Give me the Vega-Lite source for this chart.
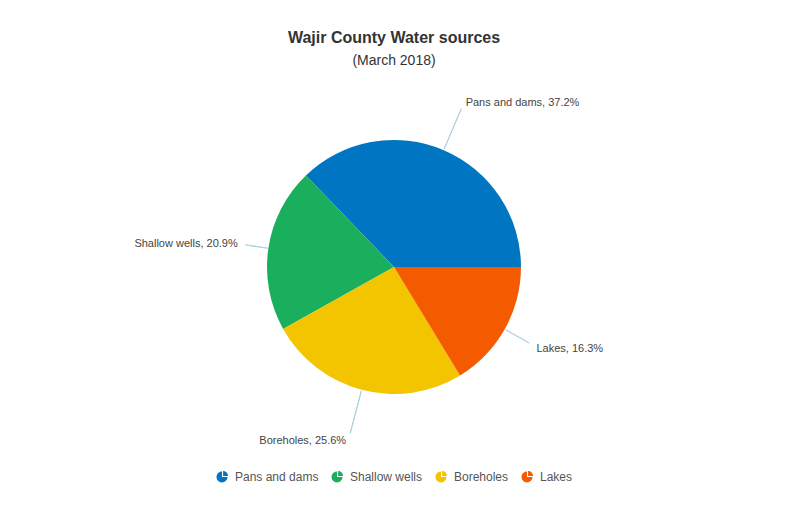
{
  "$schema": "https://vega.github.io/schema/vega-lite/v6.json",
  "width": 788,
  "height": 380,
  "padding": {"top": 30, "left": 0, "right": 0, "bottom": 0},
  "background": "white",
  "config": {"view": {"stroke": null}, "font": "Liberation Sans", "legend": {"layout": {"bottom": {"anchor": "middle"}}}},
  "title": {
    "text": "Wajir County Water sources",
    "subtitle": "(March 2018)",
    "anchor": "middle",
    "fontSize": 16,
    "fontWeight": "bold",
    "color": "#333333",
    "subtitleFontSize": 14,
    "subtitleColor": "#333333",
    "subtitlePadding": 8,
    "offset": 9,
    "font": "Liberation Sans",
    "subtitleFont": "Liberation Sans"
  },
  "data": {
    "values": [
      {"source": "Pans and dams", "value": 37.2, "o": 1},
      {"source": "Shallow wells", "value": 20.9, "o": 2},
      {"source": "Boreholes", "value": 25.6, "o": 3},
      {"source": "Lakes", "value": 16.3, "o": 4}
    ]
  },
  "transform": [
    {"window": [{"op": "sum", "field": "value", "as": "cum"}], "sort": [{"field": "o"}], "frame": [null, 0]},
    {"calculate": "datum.cum - datum.value / 2", "as": "mid"},
    {"calculate": "datum.source + ', ' + format(datum.value, '.1f') + '%'", "as": "label"}
  ],
  "layer": [
    {
      "mark": {"type": "arc", "radius": 127},
      "encoding": {
        "theta": {"field": "value", "type": "quantitative", "stack": true, "scale": {"domain": [0, 100], "range": [1.5708, -4.7124]}},
        "order": {"field": "o", "type": "quantitative"},
        "color": {
          "field": "source",
          "type": "nominal",
          "sort": ["Pans and dams", "Shallow wells", "Boreholes", "Lakes"],
          "scale": {"domain": ["Pans and dams", "Shallow wells", "Boreholes", "Lakes"], "range": ["#0075c2", "#1aaf5d", "#f2c500", "#f45b00"]},
          "legend": {
            "orient": "bottom",
            "direction": "horizontal",
            "title": null,
            "offset": 14,
            "symbolType": "M0,0 L1,0 A1,1 0 1,1 0,-1 Z M0.2,-0.2 L0.2,-1.1 A0.9,0.9 0 0,1 1.1,-0.2 Z",
            "symbolSize": 120,
            "symbolStrokeWidth": 0,
            "labelFontSize": 12,
            "labelColor": "#555555",
            "labelFont": "Liberation Sans",
            "columnPadding": 12,
            "labelOffset": 7
          }
        }
      }
    },
    {
      "transform": [{"filter": "datum.source == 'Pans and dams' || datum.source == 'Boreholes'"}],
      "mark": {"type": "arc", "radius": 172, "radius2": 128, "filled": false, "stroke": "#a8d3df", "strokeWidth": 1},
      "encoding": {
        "theta": {"field": "mid", "type": "quantitative", "stack": null},
        "theta2": {"field": "mid"}
      }
    },
    {
      "transform": [{"filter": "datum.source == 'Shallow wells'"}],
      "mark": {"type": "arc", "radius": 150, "radius2": 128, "filled": false, "stroke": "#a8d3df", "strokeWidth": 1},
      "encoding": {
        "theta": {"field": "mid", "type": "quantitative", "stack": null},
        "theta2": {"field": "mid"}
      }
    },
    {
      "transform": [{"filter": "datum.source == 'Lakes'"}],
      "mark": {"type": "arc", "radius": 155, "radius2": 128, "filled": false, "stroke": "#a8d3df", "strokeWidth": 1},
      "encoding": {
        "theta": {"field": "mid", "type": "quantitative", "stack": null},
        "theta2": {"field": "mid"}
      }
    },
    {
      "transform": [{"filter": "datum.source == 'Pans and dams'"}],
      "mark": {"type": "text", "radius": 178, "align": "left", "baseline": "middle", "fontSize": 11, "color": "#444444", "font": "Liberation Sans", "dx": 2},
      "encoding": {
        "theta": {"field": "mid", "type": "quantitative", "stack": null},
        "text": {"field": "label"}
      }
    },
    {
      "transform": [{"filter": "datum.source == 'Lakes'"}],
      "mark": {"type": "text", "radius": 168, "align": "left", "baseline": "middle", "fontSize": 11, "color": "#444444", "font": "Liberation Sans", "dx": -4},
      "encoding": {
        "theta": {"field": "mid", "type": "quantitative", "stack": null},
        "text": {"field": "label"}
      }
    },
    {
      "transform": [{"filter": "datum.source == 'Shallow wells'"}],
      "mark": {"type": "text", "radius": 158, "align": "right", "baseline": "middle", "fontSize": 11, "color": "#444444", "font": "Liberation Sans", "dx": 0},
      "encoding": {
        "theta": {"field": "mid", "type": "quantitative", "stack": null},
        "text": {"field": "label"}
      }
    },
    {
      "transform": [{"filter": "datum.source == 'Boreholes'"}],
      "mark": {"type": "text", "radius": 180, "align": "right", "baseline": "middle", "fontSize": 11, "color": "#444444", "font": "Liberation Sans", "dx": -2},
      "encoding": {
        "theta": {"field": "mid", "type": "quantitative", "stack": null},
        "text": {"field": "label"}
      }
    }
  ]
}
